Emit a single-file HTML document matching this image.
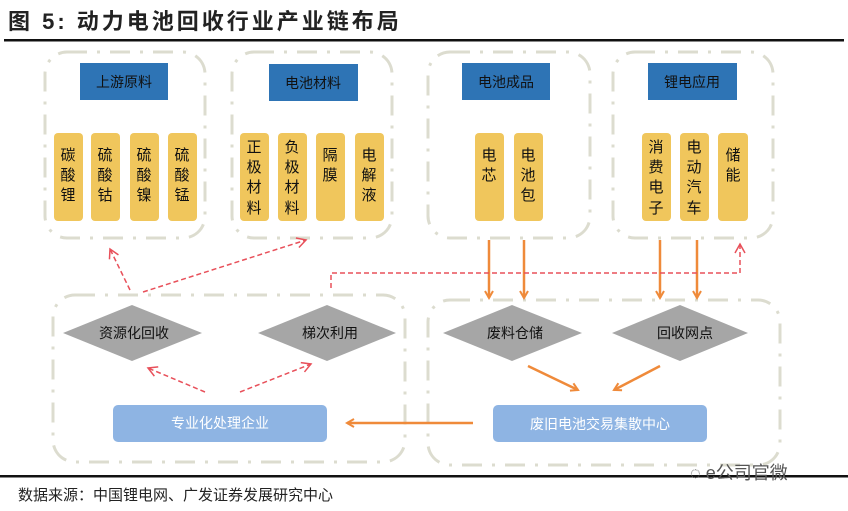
<!DOCTYPE html>
<html><head><meta charset="utf-8"><style>
body{margin:0;background:#fff;}
svg{display:block;font-family:"Liberation Sans","Noto Sans CJK SC",sans-serif;}
</style></head><body>
<svg width="848" height="511" viewBox="0 0 848 511">
<defs>
<marker id="ar" markerWidth="10" markerHeight="10" refX="8" refY="5" orient="auto" markerUnits="userSpaceOnUse"><path d="M1,1 L8,5 L1,9" fill="none" stroke="#ef8a3a" stroke-width="2"/></marker>
<marker id="rr" markerWidth="12" markerHeight="12" refX="10" refY="6" orient="auto" markerUnits="userSpaceOnUse"><path d="M1,1 L10,6 L1,11" fill="none" stroke="#e8505a" stroke-width="1.5"/></marker>
</defs>
<text x="8" y="29" font-size="22" font-weight="bold" fill="#222" letter-spacing="3">图 5:  动力电池回收行业产业链布局</text>
<rect x="4" y="39" width="840" height="2.5" fill="#111"/>
<g fill="none" stroke="#dcdccf" stroke-width="3" stroke-dasharray="20,10,3,10">
<rect x="45" y="52" width="160" height="186" rx="22"/>
<rect x="232" y="52" width="160" height="186" rx="22"/>
<rect x="428" y="52" width="162" height="186" rx="22"/>
<rect x="613" y="52" width="160" height="186" rx="22"/>
<rect x="53" y="295" width="352" height="167" rx="22"/>
<rect x="428" y="300" width="352" height="165" rx="22"/>
</g>
<g fill="#2e74b5">
<rect x="80" y="63" width="88" height="37"/>
<rect x="269" y="64" width="89" height="37"/>
<rect x="462" y="63" width="88" height="37"/>
<rect x="648" y="63" width="89" height="37"/>
</g>
<g font-size="14" fill="#111" text-anchor="middle">
<text x="124" y="87">上游原料</text><text x="313" y="88">电池材料</text>
<text x="506" y="87">电池成品</text><text x="692" y="87">锂电应用</text>
</g>
<g fill="#f0c65c">
<rect x="54" y="133" width="29" height="88" rx="4"/><rect x="91" y="133" width="29" height="88" rx="4"/>
<rect x="130" y="133" width="29" height="88" rx="4"/><rect x="168" y="133" width="29" height="88" rx="4"/>
<rect x="240" y="133" width="29" height="88" rx="4"/><rect x="278" y="133" width="29" height="88" rx="4"/>
<rect x="316" y="133" width="29" height="88" rx="4"/><rect x="355" y="133" width="29" height="88" rx="4"/>
<rect x="475" y="133" width="29" height="88" rx="4"/><rect x="514" y="133" width="29" height="88" rx="4"/>
<rect x="642" y="133" width="29" height="88" rx="4"/><rect x="680" y="133" width="29" height="88" rx="4"/>
<rect x="718" y="133" width="30" height="88" rx="4"/>
</g>
<g font-size="15" fill="#111" text-anchor="middle">
<text x="68" y="160">碳</text><text x="68" y="180">酸</text><text x="68" y="200">锂</text>
<text x="105" y="160">硫</text><text x="105" y="180">酸</text><text x="105" y="200">钴</text>
<text x="144" y="160">硫</text><text x="144" y="180">酸</text><text x="144" y="200">镍</text>
<text x="182" y="160">硫</text><text x="182" y="180">酸</text><text x="182" y="200">锰</text>
<text x="254" y="152">正</text><text x="254" y="172">极</text><text x="254" y="192">材</text><text x="254" y="213">料</text>
<text x="292" y="152">负</text><text x="292" y="172">极</text><text x="292" y="192">材</text><text x="292" y="213">料</text>
<text x="330" y="160">隔</text><text x="330" y="180">膜</text>
<text x="369" y="160">电</text><text x="369" y="180">解</text><text x="369" y="200">液</text>
<text x="489" y="160">电</text><text x="489" y="180">芯</text>
<text x="528" y="160">电</text><text x="528" y="180">池</text><text x="528" y="200">包</text>
<text x="656" y="152">消</text><text x="656" y="172">费</text><text x="656" y="192">电</text><text x="656" y="213">子</text>
<text x="694" y="152">电</text><text x="694" y="172">动</text><text x="694" y="192">汽</text><text x="694" y="213">车</text>
<text x="733" y="160">储</text><text x="733" y="180">能</text>
</g>
<g fill="#a6a6a6">
<polygon points="63,333 132,305 202,333 132,361"/>
<polygon points="258,333 327,305 396,333 327,361"/>
<polygon points="443,333 512,305 582,333 512,361"/>
<polygon points="612,333 680,305 748,333 680,361"/>
</g>
<g font-size="14" fill="#111" text-anchor="middle">
<text x="134" y="338">资源化回收</text><text x="330" y="338">梯次利用</text>
<text x="515" y="338">废料仓储</text><text x="685" y="338">回收网点</text>
</g>
<rect x="113" y="405" width="214" height="37" rx="5" fill="#8eb4e3"/>
<rect x="493" y="405" width="214" height="37" rx="5" fill="#8eb4e3"/>
<g font-size="14" fill="#fff" text-anchor="middle">
<text x="220" y="428">专业化处理企业</text><text x="600" y="429">废旧电池交易集散中心</text>
</g>
<g stroke="#ef8a3a" stroke-width="2.5" fill="none" marker-end="url(#ar)">
<line x1="489" y1="240" x2="489" y2="298"/><line x1="524" y1="240" x2="524" y2="298"/>
<line x1="660" y1="240" x2="660" y2="298"/><line x1="697" y1="240" x2="697" y2="298"/>
<line x1="528" y1="366" x2="578" y2="390"/><line x1="660" y1="366" x2="614" y2="390"/>
<line x1="473" y1="423" x2="347" y2="423"/>
</g>
<g stroke="#e8505a" stroke-width="1.5" fill="none" stroke-dasharray="5,3">
<line x1="130" y1="290" x2="110" y2="249" marker-end="url(#rr)"/>
<line x1="143" y1="292" x2="306" y2="240" marker-end="url(#rr)"/>
<line x1="205" y1="392" x2="148" y2="368" marker-end="url(#rr)"/>
<line x1="240" y1="392" x2="311" y2="364" marker-end="url(#rr)"/>
<polyline points="331,288 331,273 740,273 740,244" marker-end="url(#rr)"/>
</g>
<rect x="0" y="475" width="848" height="2.5" fill="#111"/>
<text x="18" y="500" font-size="15" fill="#222">数据来源：中国锂电网、广发证券发展研究中心</text>
<text x="690" y="479" font-size="18" fill="#555">◌ e公司官微</text>
</svg>
</body></html>
